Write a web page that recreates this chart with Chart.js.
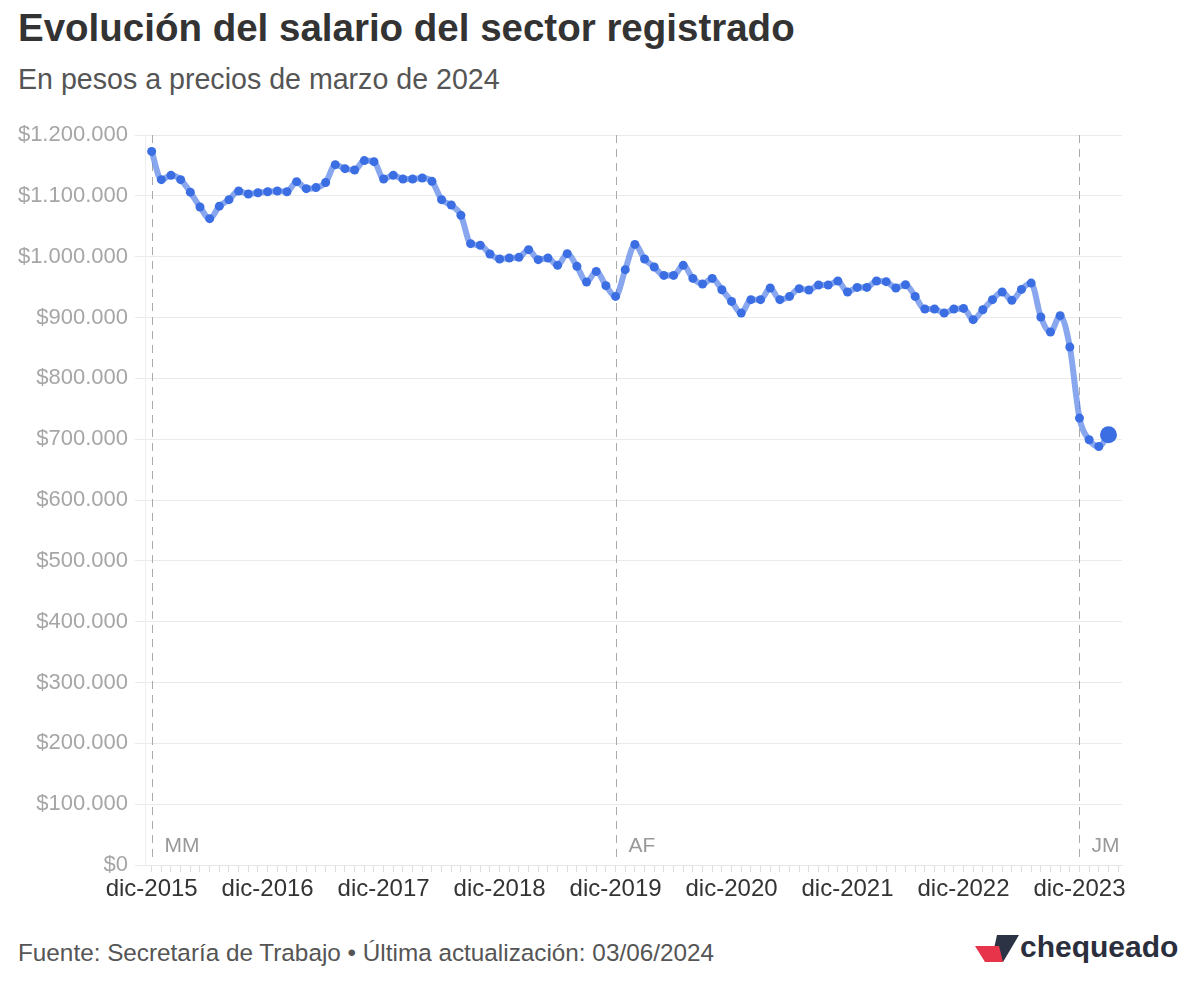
<!DOCTYPE html>
<html>
<head>
<meta charset="utf-8">
<script src="https://cdn.jsdelivr.net/npm/chart.js@4.4.1/dist/chart.umd.min.js"></script>
<style>
  body { margin: 0; background: #fff; font-family: "Liberation Sans", Arial, sans-serif; }
  #page { position: relative; width: 1200px; height: 983px; overflow: hidden; }
  #titulo { position: absolute; left: 18px; top: 6px; font-size: 38.5px; font-weight: bold; color: #333; white-space: nowrap; }
  #subtitulo { position: absolute; left: 18px; top: 63px; font-size: 28.6px; color: #555; white-space: nowrap; }
  #wrap { position: absolute; left: 0; top: 110px; width: 1200px; height: 790px; }
  #fuente { position: absolute; left: 18px; top: 939px; font-size: 24.3px; color: #555; white-space: nowrap; }
  #logo { position: absolute; left: 972px; top: 930px; }
  #logo span { position: absolute; left: 48px; top: 0px; font-size: 30px; font-weight: bold; color: #2b2f3d; white-space: nowrap; }
</style>
</head>
<body>
<div id="page">
  <div id="titulo">Evolución del salario del sector registrado</div>
  <div id="subtitulo">En pesos a precios de marzo de 2024</div>
  <div id="wrap"><canvas id="grafico"></canvas></div>
  <div id="fuente">Fuente: Secretaría de Trabajo • Última actualización: 03/06/2024</div>
  <div id="logo">
    <svg width="48" height="36" style="position:absolute;left:0;top:2px">
      <polygon points="25,3 47,3 31,30 19,30" fill="#2c3345"/>
      <polygon points="3,14 27,14 31,30 13,30" fill="#e8344b"/>
    </svg>
    <span>chequeado</span>
  </div>
</div>
<script>
// salario real mensual, dic-2015 a mar-2024 (pesos de marzo 2024)
const salario = [
  1173000, 1126600, 1133700, 1126600, 1106000, 1081700, 1062500, 1083000, 1093700, 1108000, 1103000, 1105000,
  1106700, 1108000, 1106700, 1123300, 1111800, 1113500, 1122000, 1151300, 1144700, 1142500, 1157900, 1156200,
  1127700, 1133700, 1127700, 1127700, 1129300, 1123800, 1093700, 1084900, 1067900, 1021400, 1018700, 1004400,
  996200, 997800, 998900, 1011500, 995100, 997800, 985700, 1004900, 984100, 958300, 975800, 952300,
  934700, 978600, 1020200, 996200, 983000, 969200, 969200, 985700, 964300, 955100, 964300, 945700,
  926500, 907300, 929300, 929300, 948500, 929300, 934700, 947400, 945200, 953400, 953400, 960000,
  941900, 949500, 949500, 960000, 958900, 948500, 953900, 934700, 913900, 913900, 907300, 913900,
  915000, 896400, 912800, 929300, 941900, 928200, 946200, 956600, 900800, 876100, 903000, 851500,
  734700, 699000, 688000, 707200
];
const mesesCortos = ['ene', 'feb', 'mar', 'abr', 'may', 'jun', 'jul', 'ago', 'sep', 'oct', 'nov', 'dic'];
const meses = salario.map((v, i) => mesesCortos[(i + 11) % 12] + '-' + (2015 + Math.floor((i + 11) / 12)));
const etiquetasX = ['dic-2015', 'dic-2016', 'dic-2017', 'dic-2018', 'dic-2019', 'dic-2020', 'dic-2021', 'dic-2022', 'dic-2023'];
const gobiernos = ['MM', 'AF', 'JM'];
const inicioGobierno = [0, 48, 96];

const fmt = v => '$' + v.toString().replace(/\B(?=(\d{3})+(?!\d))/g, '.');

// lineas punteadas de cada gobierno
const lineasGobierno = {
  id: 'lineasGobierno',
  beforeDatasetsDraw(chart) {
    const ctx = chart.ctx, x = chart.scales.x, area = chart.chartArea;
    ctx.save();
    inicioGobierno.forEach((m, k) => {
      const px = Math.round(x.getPixelForValue(m)) + 0.5;
      ctx.strokeStyle = '#aaa';
      ctx.lineWidth = 1;
      ctx.setLineDash([8, 6]);
      ctx.beginPath();
      ctx.moveTo(px, area.top);
      ctx.lineTo(px, area.bottom - 6);
      ctx.stroke();
      ctx.fillStyle = '#999';
      ctx.font = '21px "Liberation Sans", Arial, sans-serif';
      ctx.textBaseline = 'middle';
      ctx.fillText(gobiernos[k], px + 12, area.bottom - 19);
    });
    ctx.restore();
  }
};

new Chart(document.getElementById('grafico'), {
  type: 'line',
  data: {
    labels: meses,
    datasets: [{
      data: salario.map((v, i) => ({ x: i, y: v })),
      borderColor: 'rgba(80, 125, 230, 0.68)',
      borderWidth: 6,
      cubicInterpolationMode: 'monotone',
      pointBackgroundColor: '#3b6ee3',
      pointBorderWidth: 0,
      pointRadius: salario.map((v, i) => i === salario.length - 1 ? 8.5 : 4.5)
    }]
  },
  options: {
    responsive: true,
    maintainAspectRatio: false,
    animation: false,
    layout: { padding: { top: 25, right: 78, left: 0, bottom: 0 } },
    plugins: { legend: { display: false }, tooltip: { enabled: false } },
    scales: {
      x: {
        type: 'linear',
        min: -0.69,
        max: 100.4,
        afterBuildTicks: s => { s.ticks = []; for (let i = 0; i <= 100; i++) s.ticks.push({ value: i }); },
        afterFit: s => { s.height = 35; },
        grid: { drawOnChartArea: false, drawTicks: true, tickLength: 7, color: '#ddd' },
        border: { display: true, color: '#e6e6e6' },
        ticks: {
          autoSkip: false,
          maxRotation: 0,
          padding: 3,
          color: '#333',
          font: { family: '"Liberation Sans", Arial, sans-serif', size: 24 },
          callback: v => (v % 12 === 0 && v / 12 < etiquetasX.length) ? etiquetasX[v / 12] : ''
        }
      },
      y: {
        min: 0,
        max: 1200000,
        afterFit: s => { s.width = 145; },
        grid: { color: '#ebebeb', tickLength: 10 },
        border: { display: true, color: '#eee' },
        ticks: {
          stepSize: 100000,
          padding: 7,
          color: '#a6a6a6',
          font: { family: '"Liberation Sans", Arial, sans-serif', size: 22 },
          callback: v => fmt(v)
        }
      }
    }
  },
  plugins: [lineasGobierno]
});
</script>
</body>
</html>
